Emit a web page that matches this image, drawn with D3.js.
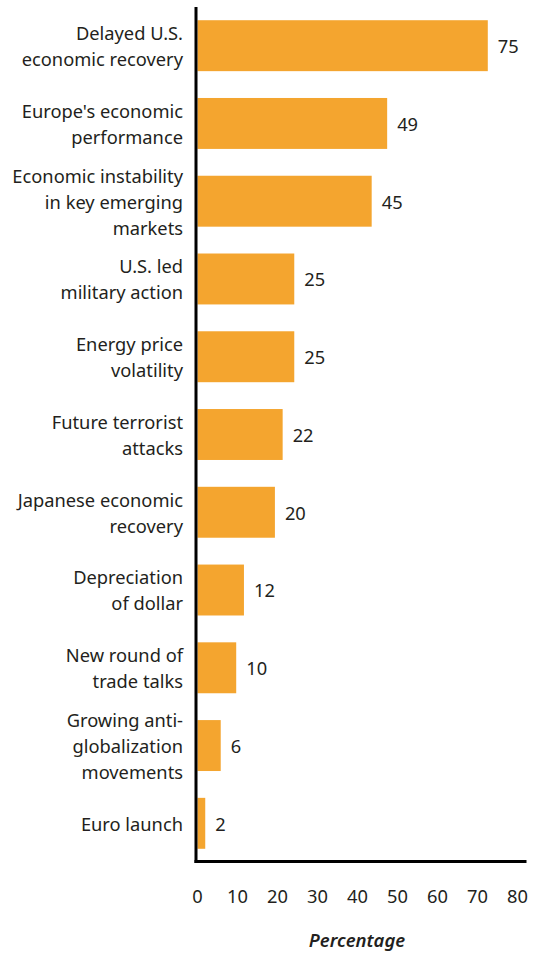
<!DOCTYPE html>
<html>
<head>
<meta charset="utf-8">
<script src="https://cdn.jsdelivr.net/npm/d3@7/dist/d3.min.js"></script>
<style>
  body { margin: 0; background: #fff; }
  text { font-family: "Noto Sans", "Open Sans", sans-serif; fill: #231f20; }
</style>
</head>
<body>
<div id="chart"></div>
<script>
// categories (each one split into its printed lines)
var categories = [
  ["Delayed U.S.", "economic recovery"],
  ["Europe's economic", "performance"],
  ["Economic instability", "in key emerging", "markets"],
  ["U.S. led", "military action"],
  ["Energy price", "volatility"],
  ["Future terrorist", "attacks"],
  ["Japanese economic", "recovery"],
  ["Depreciation", "of dollar"],
  ["New round of", "trade talks"],
  ["Growing anti-", "globalization", "movements"],
  ["Euro launch"]
]
var values = [75, 49, 45, 25, 25, 22, 20, 12, 10, 6, 2]
var tickValues = [0, 10, 20, 30, 40, 50, 60, 70, 80]
var axisTitle = "Percentage"

var width = 536, height = 954

var svg = d3.select("#chart").append("svg")
  .attr("width", width)
  .attr("height", height)

// bar scale
var xPositionScale = d3.scaleLinear().domain([0, 85]).range([197.5, 526.5])
// the printed tick labels sit a little wider apart than the bars do
var xTickScale = d3.scaleLinear().domain([0, 80]).range([197, 517])

var yPositionScale = d3.scaleBand()
  .domain(d3.range(values.length))
  .range([7, 862])
  .paddingInner(0.345)
  .paddingOuter(0.17)

var lineHeight = 26

// bars
svg.selectAll(".bar")
  .data(values)
  .enter().append("rect")
  .attr("class", "bar")
  .attr("x", xPositionScale(0))
  .attr("y", function(d, i) { return yPositionScale(i) })
  .attr("width", function(d) { return xPositionScale(d) - xPositionScale(0) })
  .attr("height", yPositionScale.bandwidth())
  .attr("fill", "#f4a52f")

// value labels
svg.selectAll(".value")
  .data(values)
  .enter().append("text")
  .attr("class", "value")
  .attr("x", function(d) { return xPositionScale(d) + 10 })
  .attr("y", function(d, i) { return yPositionScale(i) + yPositionScale.bandwidth() / 2 })
  .attr("dy", "0.4em")
  .style("font-size", "18.3px")
  .text(function(d) { return d })

// category labels
var labels = svg.selectAll(".cat")
  .data(categories)
  .enter().append("text")
  .attr("class", "cat")
  .attr("text-anchor", "end")
  .style("font-size", "18.3px")

labels.selectAll("tspan")
  .data(function(d, i) {
    return d.map(function(line, j) { return { line: line, j: j, n: d.length, i: i } })
  })
  .enter().append("tspan")
  .attr("x", 183)
  .attr("y", function(d) {
    var mid = yPositionScale(d.i) + yPositionScale.bandwidth() / 2
    return mid + (d.j - (d.n - 1) / 2) * lineHeight
  })
  .attr("dy", "0.4em")
  .text(function(d) { return d.line })

// axes lines
svg.append("line")
  .attr("x1", 196).attr("x2", 196)
  .attr("y1", 7).attr("y2", 863)
  .attr("stroke", "#000").attr("stroke-width", 3)

svg.append("line")
  .attr("x1", 194.5).attr("x2", xPositionScale(85))
  .attr("y1", 861.5).attr("y2", 861.5)
  .attr("stroke", "#000").attr("stroke-width", 3)

// tick labels
var xAxis = d3.axisBottom(xTickScale).tickValues(tickValues).tickSize(0).tickPadding(0)
var axisG = svg.append("g")
  .attr("class", "axis x-axis")
  .attr("transform", "translate(0,890)")
  .call(xAxis)
axisG.select(".domain").remove()
axisG.selectAll("text")
  .style("font-family", "Noto Sans, Open Sans, sans-serif")
  .style("font-size", "18.3px")
  .attr("fill", "#231f20")

svg.append("text")
  .attr("x", 357)
  .attr("y", 947)
  .attr("text-anchor", "middle")
  .style("font-size", "18.5px")
  .style("font-style", "italic")
  .style("font-weight", "600")
  .text(axisTitle)
</script>
</body>
</html>
